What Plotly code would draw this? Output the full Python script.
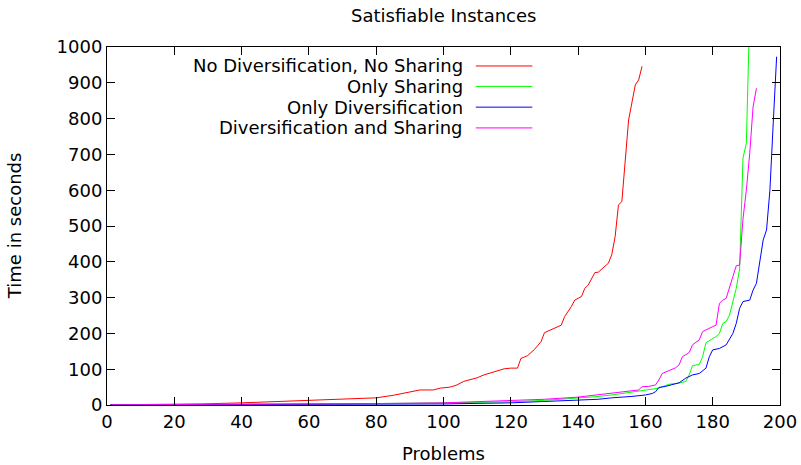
import plotly.graph_objects as go

# Problems solved (x) vs. time in seconds (y)
red_x = [1, 10, 20, 28, 40, 50, 60, 70, 80, 85, 90, 93, 97, 99, 102, 104, 106, 108, 110, 112, 114, 116, 118, 120,
         122, 123, 125, 127, 129, 130, 132, 135, 136, 138, 139, 141, 142, 143, 145, 146, 149, 150, 151, 152, 153,
         154, 155, 157, 158, 159]
red_y = [0.5, 1, 2, 3, 6, 9, 12, 15, 20, 27, 37, 42, 42, 47, 50, 56, 66, 71, 76, 84, 90, 95, 101, 103,
         103, 130, 138, 155, 177, 202, 210, 223, 247, 275, 293, 303, 326, 335, 370, 371, 396, 420, 470, 559, 568,
         690, 796, 894, 908, 946]

green_x = [1, 20, 40, 60, 80, 100, 120, 130, 140, 145, 150, 155, 160, 162, 164, 167, 170, 172, 173, 174, 176,
           177, 178, 181, 182, 183, 184, 185, 186, 187, 188, 189, 190, 191]
green_y = [0.5, 1, 2, 3, 4, 6, 9, 13, 19, 23, 28, 35, 42, 44, 47, 58, 61, 66, 84, 110, 113,
           135, 174, 191, 200, 228, 233, 251, 289, 326, 380, 690, 731, 1100]

blue_x = [1, 20, 40, 60, 80, 100, 120, 130, 140, 146, 150, 152, 156, 160, 162, 163, 164, 166, 168, 170, 172,
          174, 176, 178, 179, 180, 182, 184, 186, 187, 188, 189, 191, 192, 193, 194, 195, 196, 197, 198, 199]
blue_y = [0.3, 0.5, 1, 1.5, 2, 3, 6, 10, 14, 16, 20, 21, 24, 28, 32, 37, 49, 52, 56, 62, 75,
          84, 88, 103, 135, 154, 158, 168, 200, 228, 270, 289, 293, 321, 340, 396, 461, 489, 600, 790, 973]

mag_x = [1, 20, 40, 60, 80, 100, 120, 130, 140, 150, 155, 158, 159, 161, 163, 164, 165, 167, 169, 170, 171,
         173, 174, 176, 177, 180, 181, 182, 183, 184, 186, 187, 188, 189, 190, 191, 192, 193]
mag_y = [0.5, 1, 2, 3, 4, 6, 12, 16, 22, 33, 38, 42, 51, 52, 56, 70, 88, 95, 104, 112, 135,
         146, 168, 182, 205, 219, 223, 284, 293, 298, 358, 389, 391, 520, 600, 703, 833, 885]

series_names = ["No Diversification, No Sharing", "Only Sharing", "Only Diversification",
                "Diversification and Sharing"]
series_colors = ["#ff0000", "#00ff00", "#0000ff", "#ff00ff"]
series_data = [(red_x, red_y), (green_x, green_y), (blue_x, blue_y), (mag_x, mag_y)]

x_ticks = list(range(0, 201, 20))
y_ticks = list(range(0, 1001, 100))

FONT = "DejaVu Sans"
FS = 18

fig = go.Figure()
for name, color, (xs, ys) in zip(series_names, series_colors, series_data):
    fig.add_trace(go.Scatter(x=xs, y=ys, mode="lines", name=name,
                             line=dict(color=color, width=1), showlegend=False))

# gnuplot-style key: text on the left (right-aligned), line sample on the right
key_y = [0.947, 0.890, 0.832, 0.774]
for name, color, ky in zip(series_names, series_colors, key_y):
    fig.add_annotation(x=0.532, y=ky, xref="paper", yref="paper", text=name, showarrow=False,
                       xanchor="right", yanchor="middle", font=dict(family=FONT, size=FS, color="black"))
    fig.add_shape(type="line", xref="paper", yref="paper", x0=0.548, x1=0.632, y0=ky, y1=ky,
                  line=dict(color=color, width=1))

# axis titles and chart title
fig.add_annotation(x=0.4993, y=-0.1704, xref="paper", yref="paper", text="Problems", showarrow=False,
                   xanchor="center", yanchor="bottom", font=dict(family=FONT, size=FS, color="black"))
fig.add_annotation(x=-0.138, y=0.5, xref="paper", yref="paper", text="Time in seconds", showarrow=False,
                   textangle=-90, xanchor="center", yanchor="middle",
                   font=dict(family=FONT, size=FS, color="black"))
fig.add_annotation(x=0.4993, y=1.089, xref="paper", yref="paper", text="Satisfiable Instances",
                   showarrow=False, xanchor="center", yanchor="middle",
                   font=dict(family=FONT, size=FS, color="black"))

axis_common = dict(showgrid=False, zeroline=False, showline=True, linecolor="black", linewidth=1,
                   mirror="ticks", ticks="inside", ticklen=8, tickcolor="black", tickwidth=1,
                   automargin=False, tickfont=dict(family=FONT, size=FS, color="black"))

fig.update_xaxes(range=[0, 200], tickvals=x_ticks, ticktext=[str(v) for v in x_ticks], **axis_common)
fig.update_yaxes(range=[0, 1000], tickvals=y_ticks, ticktext=[str(v) for v in y_ticks], **axis_common)

fig.update_layout(
    width=801, height=465,
    margin=dict(l=107, r=21, t=47, b=60),
    paper_bgcolor="white", plot_bgcolor="white",
)

# remove the browser's default 8px body margin so the figure fills the window exactly
fig.write_html("out.html", config={"displayModeBar": False},
               post_script="document.body.style.margin='0';document.body.style.overflow='hidden';")
